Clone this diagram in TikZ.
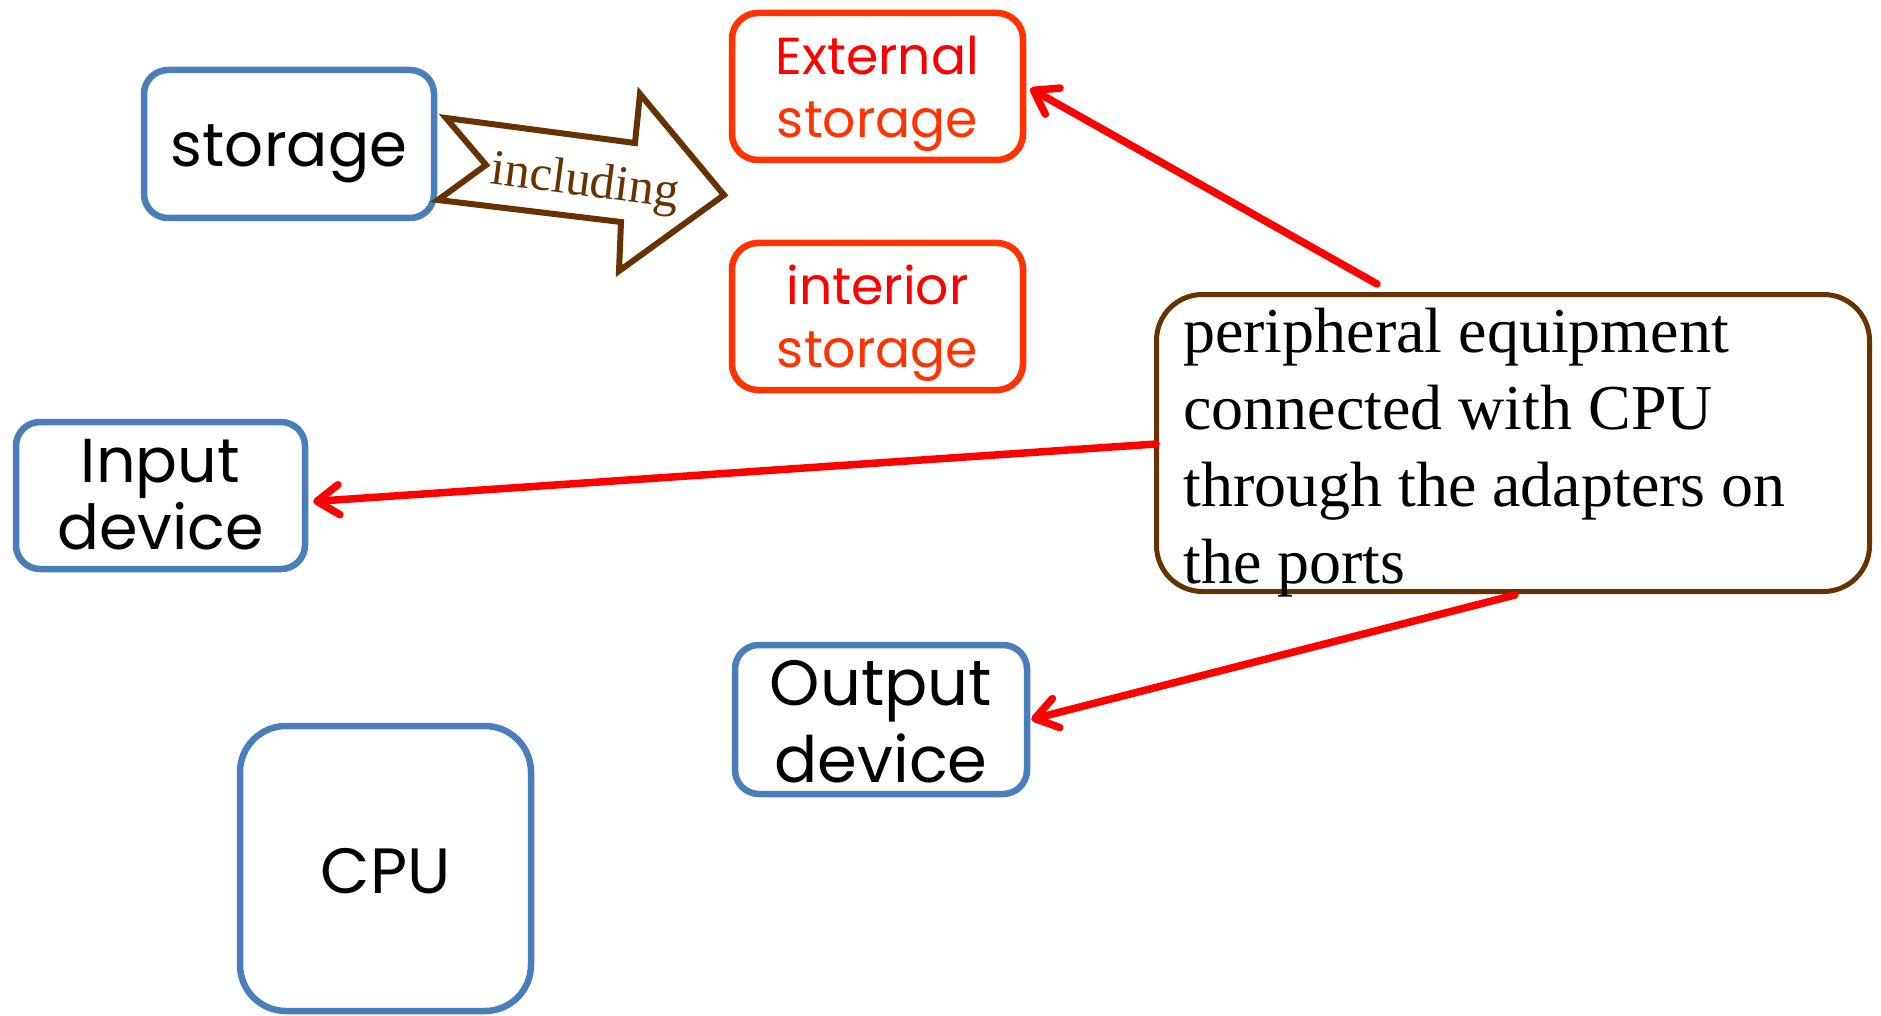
\documentclass[tikz,border=0pt]{standalone}
\usepackage{fontspec}
\setmainfont{Liberation Serif}
\newfontfamily\gothic{Poppins}
\usetikzlibrary{arrows.meta}
\definecolor{boxblue}{HTML}{4A7EBB}
\definecolor{boxred}{HTML}{FF3300}
\definecolor{brn}{HTML}{663300}
\definecolor{arrred}{HTML}{FF0000}
\begin{document}
\begin{tikzpicture}[x=1pt,y=-1pt,
  bluebox/.style={draw=boxblue, line width=6.5pt, rounded corners=24pt, inner sep=0pt, align=center,
    text depth=0pt},
  redbox/.style={draw=boxred, line width=6.5pt, rounded corners=26pt, inner sep=0pt, align=center,
    text depth=0pt, font={\gothic\fontsize{52}{63}\selectfont}},
  link/.style={draw=arrred, line width=7.5pt, line cap=round,
    -{Straight Barb[length=22pt,width=30pt,round]}}
]
\useasboundingbox (0,0) rectangle (1881,1016);

% boxes
\node[bluebox, minimum width=290pt, minimum height=148pt, text height=46pt,
  font={\gothic\fontsize{61}{66}\selectfont}] (storage) at (289,144) {storage};
\node[redbox, minimum width=291pt, minimum height=147pt, text height=103pt] (ext) at (877.5,86.5)
  {\textcolor{arrred}{External}\\\textcolor{boxred}{storage}};
\node[redbox, minimum width=291pt, minimum height=147pt, text height=101pt] (int) at (877.5,316.5)
  {\textcolor{arrred}{interior}\\\textcolor{boxred}{storage}};
\node[bluebox, minimum width=289pt, minimum height=147pt, text height=107pt,
  font={\gothic\fontsize{62}{67}\selectfont}] (inp) at (160.5,495.5) {Input\\device};
\node[bluebox, minimum width=292pt, minimum height=149pt, text height=125pt,
  font={\gothic\fontsize{64}{77}\selectfont}] (outp) at (881,719.5) {Output\\device};
\node[bluebox, rounded corners=46pt, minimum width=291pt, minimum height=285pt, text height=49pt,
  font={\gothic\fontsize{64}{66}\selectfont}] (cpu) at (385.5,868.5) {CPU};

% peripheral box
\node[draw=brn, line width=5pt, rounded corners=46pt, minimum width=713pt, minimum height=297pt,
  inner sep=0pt] (periph) at (1513,443) {};
\node[anchor=base west, align=left, inner sep=0pt, font={\fontsize{64}{77}\selectfont}]
  (ptext) at (1183,583) {peripheral equipment\\connected with CPU\\through the adapters on\\the ports};

% block arrow "including"
\draw[brn, line width=6pt, line join=miter, fill=white]
  (446,118) -- (635,143) -- (640,94) -- (724,195) -- (619,271) -- (621,222) -- (438,200) -- (486,165) -- cycle;
\node[rotate=-7.5, text=brn, inner sep=0pt, font={\fontsize{50}{50}\selectfont}] (incl) at (585,184) {including};

% connectors
\coordinate (s1) at (1377,284);
\coordinate (s2) at (1156,444);
\coordinate (s3) at (1515,595);
\draw[link] (s1) -- ([xshift=4pt,yshift=-2pt]ext.east);
\draw[link] (s2) -- ([xshift=5pt,yshift=-6pt]inp.east);
\draw[link] (s3) -- ([xshift=1pt]outp.east);
\end{tikzpicture}
\end{document}
